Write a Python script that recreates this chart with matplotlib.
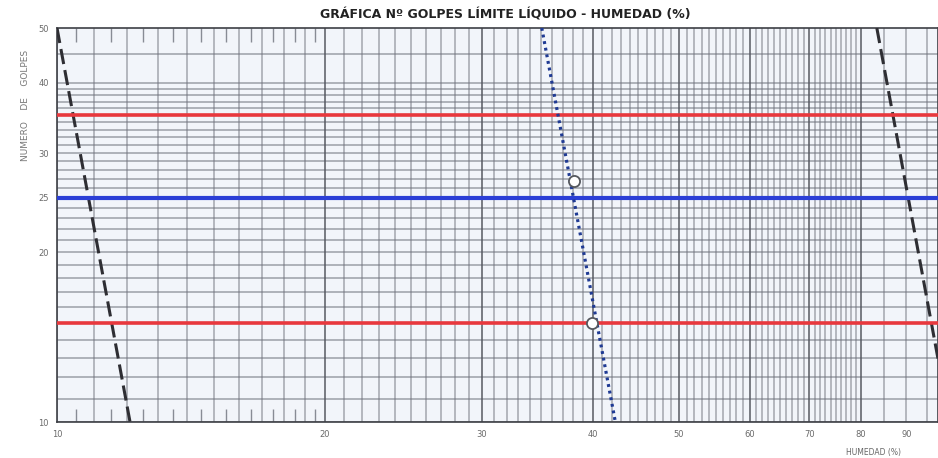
import matplotlib.pyplot as plt
import numpy as np

# humedad (%) vs numero de golpes, papel semilogaritmico
humedad_ticks = [10, 20, 30, 40, 50, 60, 70, 80, 90]
golpes_ticks = [10, 20, 25, 30, 40, 50]

# lineas del papel impreso
grid_x = list(range(10, 81)) + [85, 90, 95]
grid_y = list(range(10, 41)) + [45]
half_ticks_x = [10.5, 11.5, 12.5, 13.5, 14.5, 15.5, 16.5, 17.5, 18.5, 19.5]

# lineas horizontales de referencia
golpes_rojo = [35, 15]
golpes_azul = [25]

# curva de fluidez y puntos del ensayo
curva_humedad = [35.05, 42.4]
curva_golpes = [50, 10]
ensayo_humedad = [38.1, 39.9]
ensayo_golpes = [26.8, 15.0]

# guias discontinuas impresas
guia_izq_humedad = [10.0, 12.08]
guia_der_humedad = [83.4, 100.7]
guia_golpes = [50, 10]

fig = plt.figure(figsize=(9.38, 4.58), dpi=100)
ax = fig.add_axes([57 / 938, 1 - 422 / 458, 1 - 57 / 938, (422 - 28) / 458])
ax.set_xscale("log")
ax.set_yscale("log")
ax.set_xlim(10, 97.7)
ax.set_ylim(10, 50)
ax.set_facecolor("#f2f5fa")

grid_col = "#6e727c"
ax.vlines(grid_x, 10, 50, colors=grid_col, lw=1.1, alpha=0.6, zorder=1)
ax.hlines(grid_y, 10, 100, colors=grid_col, lw=1.1, alpha=0.65, zorder=1)
ax.vlines([20, 30, 40, 50, 60, 70, 80], 10, 50, colors="#4a4d55", lw=1.1, alpha=0.7, zorder=1)

trans = ax.get_xaxis_transform()
ax.vlines(half_ticks_x, 0, 0.032, colors=grid_col, lw=1.0, alpha=0.8, transform=trans, zorder=1)
ax.vlines(half_ticks_x, 0.965, 1, colors=grid_col, lw=1.0, alpha=0.8, transform=trans, zorder=1)

ax.plot(guia_izq_humedad, guia_golpes, color="#2e2e33", lw=2.2, ls=(0, (5, 2)), zorder=3)
ax.plot(guia_der_humedad, guia_golpes, color="#2e2e33", lw=2.2, ls=(0, (5, 2)), zorder=3)

for g in golpes_rojo:
    ax.axhline(g, color="#e8383d", lw=2.6, zorder=3)
for g in golpes_azul:
    ax.axhline(g, color="#2b3fd6", lw=3.0, zorder=3)

ax.plot(curva_humedad, curva_golpes, color="#1f3a93", lw=2.3, ls=(0, (0.9, 1.2)), zorder=4)
ax.plot(ensayo_humedad, ensayo_golpes, ls="none", marker="o", ms=8,
        mfc="white", mec="#55585e", mew=1.3, zorder=5)

for s in ax.spines.values():
    s.set_color("#3d3f45")
    s.set_linewidth(1.2)

ax.set_xticks(humedad_ticks)
ax.set_xticklabels([str(v) for v in humedad_ticks])
ax.set_yticks(golpes_ticks)
ax.set_yticklabels([str(v) for v in golpes_ticks])
ax.xaxis.set_minor_locator(plt.NullLocator())
ax.yaxis.set_minor_locator(plt.NullLocator())
ax.tick_params(length=0, labelsize=6, labelcolor="#6a6a6a", pad=6)

fig.text(505 / 938, 1 - 15 / 458, "GRÁFICA Nº GOLPES LÍMITE LÍQUIDO - HUMEDAD (%)",
         ha="center", va="center", fontsize=9, fontweight="bold", color="#222222")
fig.text(26 / 938, 1 - 105 / 458, "NUMERO    DE    GOLPES", rotation=90,
         ha="center", va="center", fontsize=6.5, color="#777777")
fig.text(874 / 938, 1 - 452 / 458, "HUMEDAD (%)", ha="center", va="center",
         fontsize=5.5, color="#666666")

fig.savefig("out.png", dpi=100)
